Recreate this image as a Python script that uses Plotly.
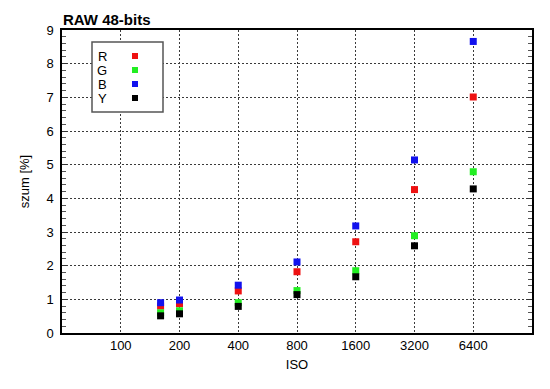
import plotly.graph_objects as go

iso = [160, 200, 400, 800, 1600, 3200, 6400]
r_vals = [0.80, 0.87, 1.25, 1.82, 2.71, 4.26, 7.01]
g_vals = [0.60, 0.66, 0.90, 1.26, 1.85, 2.89, 4.79]
b_vals = [0.90, 0.98, 1.42, 2.11, 3.18, 5.14, 8.66]
y_vals = [0.51, 0.57, 0.79, 1.14, 1.67, 2.59, 4.28]

series_names = ["R", "G", "B", "Y"]
series_colors = ["#ee1111", "#22ee22", "#1111ee", "#000000"]
series_values = [r_vals, g_vals, b_vals, y_vals]

x_ticks = [100, 200, 400, 800, 1600, 3200, 6400]
x_tick_text = ["100", "200", "400", "800", "1600", "3200", "6400"]
y_ticks = [0, 1, 2, 3, 4, 5, 6, 7, 8, 9]

FONT = "Liberation Sans, Arial, sans-serif"

fig = go.Figure()
for name, color, vals in zip(series_names, series_colors, series_values):
    fig.add_trace(go.Scatter(
        x=iso, y=vals, mode="markers", name=name,
        marker=dict(symbol="square", size=7, color=color, line=dict(width=0)),
        showlegend=False,
    ))

# manual legend (text left of swatch, as in the reference)
shapes = [dict(type="rect", xref="paper", yref="paper",
               x0=(92 - 62) / 470, x1=(163 - 62) / 470,
               y0=(333 - 112) / 303, y1=(333 - 42) / 303,
               line=dict(color="#555555", width=1.5), fillcolor="white", layer="above")]
annotations = []
for i, (name, color) in enumerate(zip(series_names, series_colors)):
    yc = 56 + i * 14
    ypaper = (333 - yc) / 303
    annotations.append(dict(text=name, xref="paper", yref="paper",
                            x=(102 - 62) / 470, y=ypaper, xanchor="center", yanchor="middle",
                            showarrow=False, font=dict(family=FONT, size=13, color="black")))
    shapes.append(dict(type="rect", xref="paper", yref="paper",
                       x0=(132 - 62) / 470, x1=(138 - 62) / 470,
                       y0=(333 - yc - 3) / 303, y1=(333 - yc + 3) / 303,
                       line=dict(width=0), fillcolor=color, layer="above"))

GRID = dict(showgrid=True, gridcolor="#3a3a3a", griddash="2px,2px", gridwidth=1)

fig.update_layout(
    width=550, height=389,
    margin=dict(l=62, r=18, t=30, b=56, autoexpand=False),
    paper_bgcolor="white", plot_bgcolor="white",
    font=dict(family=FONT, size=13, color="black"),
    title=dict(text="<b>RAW 48-bits</b>", x=63 / 550, xanchor="left",
               y=1 - 20 / 389, yanchor="middle", font=dict(family=FONT, size=15, color="black")),
    shapes=shapes, annotations=annotations,
    xaxis=dict(
        type="log", range=[1.69897, 4.10721], automargin=False,
        tickvals=x_ticks, ticktext=x_tick_text, **GRID,
        showline=True, linecolor="black", linewidth=1.5, mirror=True,
        ticks="", zeroline=False,
        title=dict(text="ISO", font=dict(size=13), standoff=8),
    ),
    yaxis=dict(
        range=[0, 9], tickvals=y_ticks, automargin=False, **GRID,
        showline=True, linecolor="black", linewidth=1.5, mirror="allticks",
        ticks="inside", ticklen=5, tickcolor="#333333", zeroline=False,
        minor=dict(ticks="inside", dtick=0.2, ticklen=4, tickcolor="#555555", showgrid=False),
        ticklabelstandoff=4,
        title=dict(text="szum [%]", font=dict(size=13), standoff=14),
    ),
)

fig.write_html("out.html", config={"displayModeBar": False},
               post_script="document.body.style.margin='0';document.body.style.overflow='hidden';")
